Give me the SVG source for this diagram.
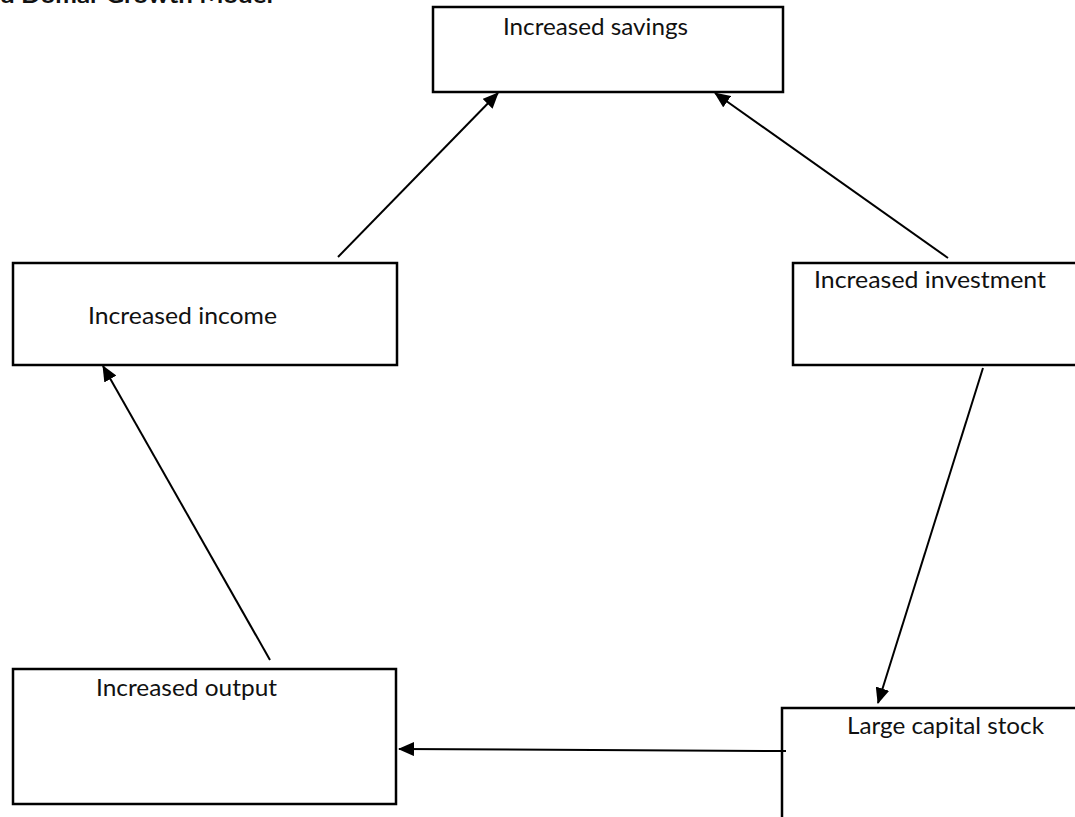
<svg xmlns="http://www.w3.org/2000/svg" width="1075" height="817" viewBox="0 0 1075 817">
<style>
.box{fill:#fff;stroke:#000;stroke-width:2.5}
.lbl{font-family:Lato,"Liberation Sans",sans-serif;font-size:24px;fill:#111}
.ttl{font-family:Lato,"Liberation Sans",sans-serif;font-size:22px;font-weight:bold;fill:#111}
.con{stroke:#000;stroke-width:2;fill:none;marker-end:url(#ah)}
</style>
<defs>
<marker id="ah" markerUnits="userSpaceOnUse" markerWidth="16" markerHeight="14" viewBox="0 0 16 14" refX="15" refY="7" orient="auto">
<path d="M0,0 L16,7 L0,14 Z" fill="#000"/>
</marker>
</defs>
<rect width="1075" height="817" fill="#fff"/>
<text class="ttl" x="0" y="2.5" textLength="273" lengthAdjust="spacingAndGlyphs">d Domar Growth Model</text>
<g id="savings"><rect class="box" x="433" y="7" width="350" height="85"/><text class="lbl" x="503" y="35" textLength="185" lengthAdjust="spacingAndGlyphs">Increased savings</text></g>
<g id="income"><rect class="box" x="13" y="263" width="384" height="102"/><text class="lbl" x="88" y="324" textLength="189" lengthAdjust="spacingAndGlyphs">Increased income</text></g>
<g id="investment"><rect class="box" x="793" y="263" width="300" height="102"/><text class="lbl" x="814" y="288" textLength="232" lengthAdjust="spacingAndGlyphs">Increased investment</text></g>
<g id="output"><rect class="box" x="13" y="669" width="383" height="135"/><text class="lbl" x="96" y="696" textLength="181" lengthAdjust="spacingAndGlyphs">Increased output</text></g>
<g id="capital"><rect class="box" x="782" y="708" width="310" height="130"/><text class="lbl" x="847" y="734" textLength="197" lengthAdjust="spacingAndGlyphs">Large capital stock</text></g>
<g id="connectors">
<line class="con" x1="338" y1="257" x2="498" y2="93"/>
<line class="con" x1="948" y1="258" x2="715" y2="93"/>
<line class="con" x1="983" y1="368" x2="878" y2="703"/>
<line class="con" x1="786" y1="751" x2="399" y2="749"/>
<line class="con" x1="270" y1="660" x2="103" y2="366"/>
</g>
</svg>
